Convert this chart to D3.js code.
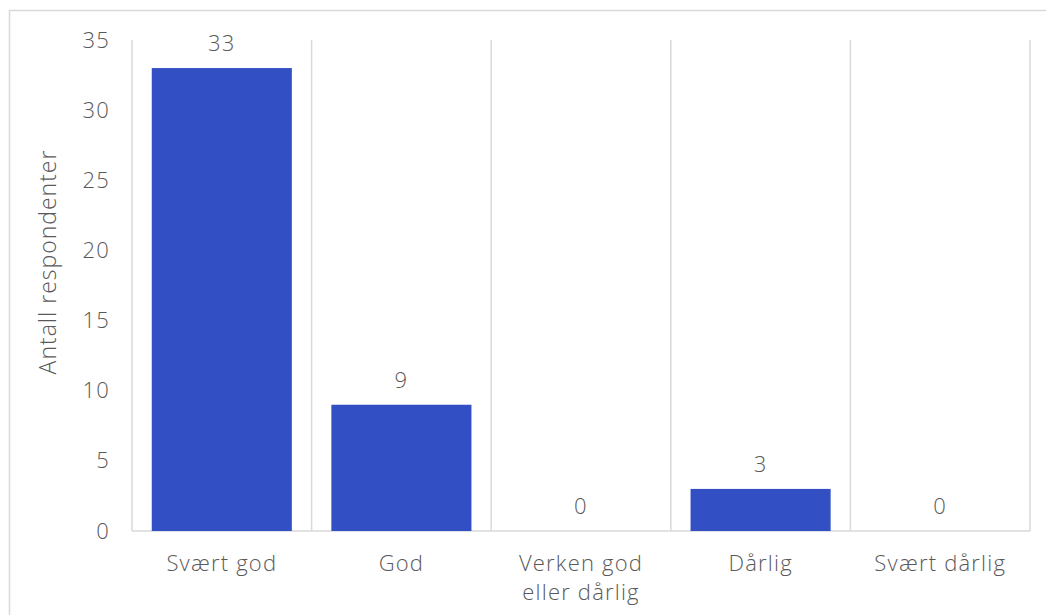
<!DOCTYPE html>
<html><head><meta charset="utf-8">
<script src="https://cdn.jsdelivr.net/npm/d3@7"></script>
<style>body{margin:0;background:#fff}svg{display:block}text{font-family:"Open Sans",Lato,sans-serif;fill:#595959;font-weight:300;letter-spacing:1.2px}</style>
</head><body>
<svg id="c" width="1046" height="615"></svg>
<script>
const categories = [["Svært god"],["God"],["Verken god","eller dårlig"],["Dårlig"],["Svært dårlig"]];
const values = [33, 9, 0, 3, 0];
const yTicks = [0,5,10,15,20,25,30,35];
const yTitle = "Antall respondenter";

const FONT = "'Open Sans',Lato,sans-serif";
const svg = d3.select("#c");
const m = {l:132, r:1030, t:40, b:531};
svg.append("rect").attr("x",9.5).attr("y",10.5).attr("width",1100).attr("height",700)
  .attr("fill","none").attr("stroke","#d9d9d9").attr("stroke-width",1.5);

const x = d3.scaleBand().domain(d3.range(categories.length)).range([m.l,m.r]).paddingInner(0).paddingOuter(0);
const y = d3.scaleLinear().domain([0,35]).range([m.b,m.t]);

const bounds = d3.range(categories.length+1).map(i => m.l + i*x.bandwidth());
svg.selectAll(".vg").data(bounds).join("line")
  .attr("x1",d=>d).attr("x2",d=>d).attr("y1",m.t).attr("y2",m.b)
  .attr("stroke","#d9d9d9").attr("stroke-width",1.5);
svg.append("line").attr("x1",m.l).attr("x2",m.r).attr("y1",m.b).attr("y2",m.b)
  .attr("stroke","#d9d9d9").attr("stroke-width",1.5);

const bw = x.bandwidth()*0.78;
svg.selectAll(".bar").data(values).join("rect")
  .attr("x",(d,i)=>x(i)+(x.bandwidth()-bw)/2).attr("width",bw)
  .attr("y",d=>y(d)).attr("height",d=>y(0)-y(d)).attr("fill","#3250C4");

svg.selectAll(".lbl").data(values).join("text")
  .attr("x",(d,i)=>x(i)+x.bandwidth()/2).attr("y",d=>y(d)-17)
  .attr("text-anchor","middle").attr("font-size",22).text(d=>d);

const ya = svg.append("g").attr("transform",`translate(${m.l},0)`)
  .call(d3.axisLeft(y).tickValues(yTicks).tickSize(0).tickPadding(22));
ya.select(".domain").remove();
ya.selectAll("text").attr("font-size",22).attr("fill","#595959").style("font-family",FONT);

const xl = svg.selectAll(".xl").data(categories).join("text")
  .attr("text-anchor","middle").attr("font-size",22)
  .attr("transform",(d,i)=>`translate(${x(i)+x.bandwidth()/2},571)`);
xl.selectAll("tspan").data(d=>d).join("tspan").attr("x",0).attr("dy",(d,j)=>j?29:0).text(d=>d);

svg.append("text").attr("transform",`translate(56,262) rotate(-90)`)
  .attr("text-anchor","middle").attr("font-size",23).style("letter-spacing","1px").text(yTitle);
</script>
</body></html>
